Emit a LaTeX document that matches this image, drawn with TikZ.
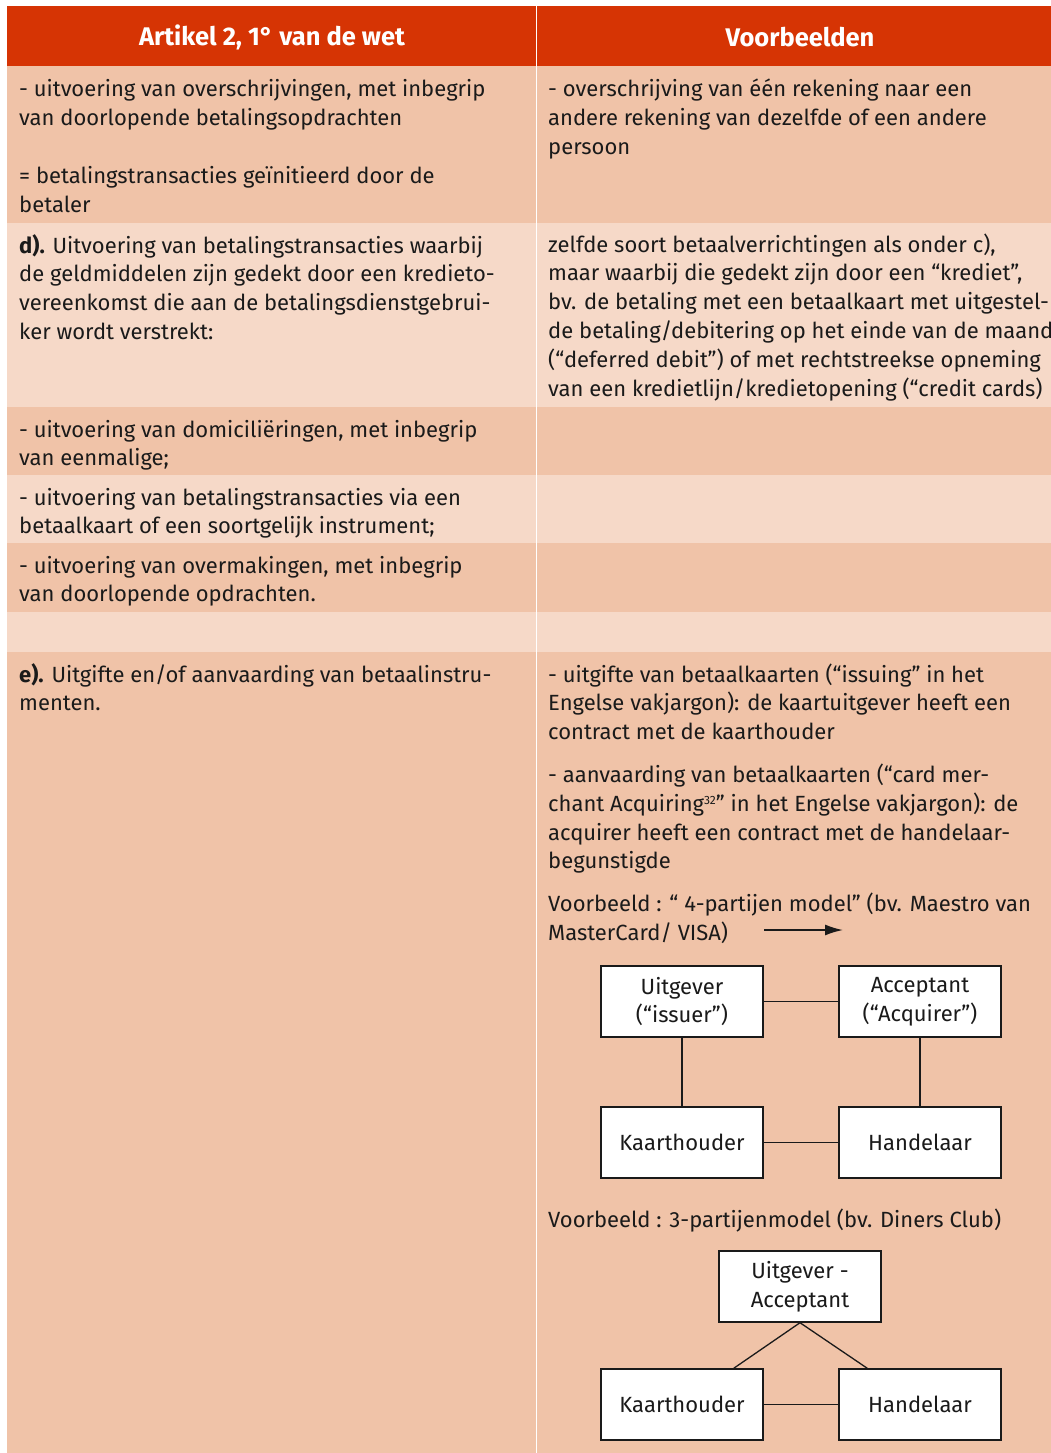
\documentclass[tikz,border=0pt]{standalone}
\usepackage{fontspec}
\setmainfont{Fira Sans}
\usetikzlibrary{arrows.meta}

\definecolor{headred}{HTML}{D63404}
\definecolor{rowdark}{HTML}{F0C3A8}
\definecolor{rowlight}{HTML}{F6D9C8}
\definecolor{inktext}{HTML}{1A1A1A}
\newcommand{\celltext}{\fontsize{22}{28.8}\selectfont}
\newcommand{\headtext}{\fontsize{25.5}{30}\selectfont\bfseries}
\newcommand{\cellrows}[1]{\begin{tabular}[t]{@{}l@{}}#1\end{tabular}}

\tikzset{
  cell/.style={anchor=base west, inner sep=0pt, text=inktext, font=\celltext},
  head/.style={inner sep=0pt, text=white, font=\headtext},
  party/.style={draw=inktext, fill=white, line width=1.4pt, minimum width=162pt,
    minimum height=71pt, align=center, inner sep=0pt, text=inktext, font=\celltext},
  link/.style={draw=inktext, line width=1.3pt}
}

\begin{document}
\begin{tikzpicture}[x=1pt,y=-1pt]
\useasboundingbox (0,0) rectangle (1051,1453);
\fill[white] (0,0) rectangle (1051,1453);
% table background
\fill[headred] (7,6) rectangle (1051,66);
\fill[rowdark] (7,66) rectangle (1051,223);
\fill[rowlight] (7,223) rectangle (1051,407);
\fill[rowdark] (7,407) rectangle (1051,475);
\fill[rowlight] (7,475) rectangle (1051,543);
\fill[rowdark] (7,543) rectangle (1051,612);
\fill[rowlight] (7,612) rectangle (1051,652);
\fill[rowdark] (7,652) rectangle (1051,1453);
\draw[white, line width=1.5pt] (536.5,6) -- (536.5,1453);

% header
\node[head] (hleft) at (272,37) {Artikel 2, 1° van de wet};
\node[head] (hright) at (800,37) {Voorbeelden};

% rows
\node[cell] (transfer) at (19,97) {\cellrows{- uitvoering van overschrijvingen, met inbegrip\\
  van doorlopende betalingsopdrachten\\[28.8pt]
  = betalingstransacties geïnitieerd door de\\
  betaler}};
\node[cell] (transferex) at (548,97) {\cellrows{- overschrijving van één rekening naar een\\
  andere rekening van dezelfde of een andere\\
  persoon}};
\node[cell] (credit) at (19,253) {\cellrows{\textbf{d).} Uitvoering van betalingstransacties waarbij\\
  de geldmiddelen zijn gedekt door een kredieto-\\
  vereenkomst die aan de betalingsdienstgebrui-\\
  ker wordt verstrekt:}};
\node[cell] (creditex) at (548,252) {\cellrows{zelfde soort betaalverrichtingen als onder c),\\
  maar waarbij die gedekt zijn door een “krediet”,\\
  bv. de betaling met een betaalkaart met uitgestel-\\
  de betaling/debitering op het einde van de maand\\
  (“deferred debit”) of met rechtstreekse opneming\\
  van een kredietlijn/kredietopening (“credit cards)}};
\node[cell] (debit) at (19,437) {\cellrows{- uitvoering van domiciliëringen, met inbegrip\\
  van eenmalige;}};
\node[cell] (card) at (19,505) {\cellrows{- uitvoering van betalingstransacties via een\\
  betaalkaart of een soortgelijk instrument;}};
\node[cell] (remit) at (19,573) {\cellrows{- uitvoering van overmakingen, met inbegrip\\
  van doorlopende opdrachten.}};
\node[cell] (issue) at (19,682) {\cellrows{\textbf{e).} Uitgifte en/of aanvaarding van betaalinstru-\\
  menten.}};
\node[cell] (issueex) at (548,682) {\cellrows{- uitgifte van betaalkaarten (“issuing” in het\\
  Engelse vakjargon): de kaartuitgever heeft een\\
  contract met de kaarthouder\\[14pt]
  - aanvaarding van betaalkaarten (“card mer-\\
  chant Acquiring{\fontsize{12}{12}\selectfont\raisebox{7pt}{32}}” in het Engelse vakjargon): de\\
  acquirer heeft een contract met de handelaar-\\
  begunstigde\\[14pt]
  Voorbeeld : “ 4-partijen model” (bv. Maestro van\\
  MasterCard/ VISA)}};
\coordinate (arrstart) at (764,930);
\coordinate (arrend) at (843,930);
\draw[link, line width=1.7pt, -{Latex[length=18pt,width=11pt]}] (arrstart) -- (arrend);

% 4-partijen model
\node[party] (issuer) at (682,1001.5) {Uitgever\\(“issuer”)};
\node[party] (acquirer) at (920,1001.5) {Acceptant\\(“Acquirer”)};
\node[party] (holder) at (682,1142.5) {Kaarthouder};
\node[party] (merchant) at (920,1142.5) {Handelaar};
\draw[link] (issuer) -- (acquirer);
\draw[link] (issuer) -- (holder);
\draw[link] (acquirer) -- (merchant);
\draw[link] (holder) -- (merchant);

% 3-partijenmodel
\node[cell] (threeparty) at (548,1227) {Voorbeeld : 3-partijenmodel (bv. Diners Club)};
\node[party] (issacq) at (800,1286.5) {Uitgever -\\Acceptant};
\node[party] (holdertwo) at (682,1404.5) {Kaarthouder};
\node[party] (merchanttwo) at (920,1404.5) {Handelaar};
\draw[link] ([xshift=-30pt]holdertwo.north east) -- (issacq.south)
  -- ([xshift=29pt]merchanttwo.north west);
\draw[link] (holdertwo) -- (merchanttwo);
\end{tikzpicture}
\end{document}
